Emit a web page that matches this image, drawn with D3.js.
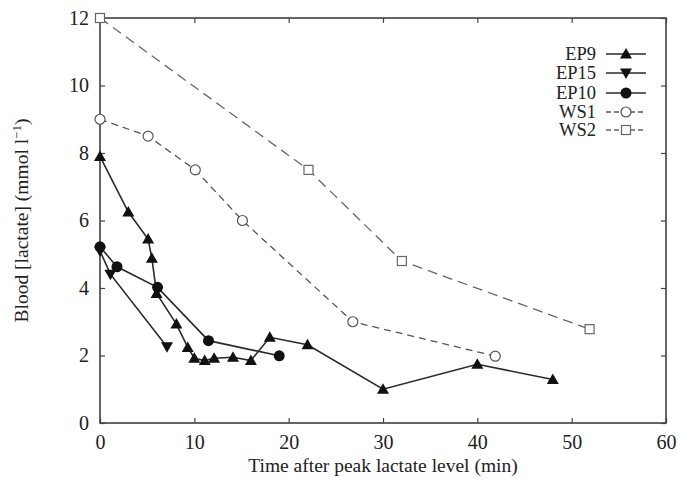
<!DOCTYPE html>
<html><head><meta charset="utf-8">
<script src="https://cdn.jsdelivr.net/npm/d3@7"></script>
<style>body{margin:0;background:#fff}svg{display:block}text{font-family:"Liberation Serif","Times New Roman",serif;fill:#222}</style>
</head><body><svg id="c" width="678" height="496"></svg>
<script>
const xTicks=[0,10,20,30,40,50,60];
const yTicks=[0,2,4,6,8,10,12];
const ep9X=[0,3,5.1,5.5,6.0,8.1,9.3,10.0,11.1,12.1,14.1,16.0,18.0,22.0,30.0,40.0,48.0];
const ep9Y=[7.9,6.25,5.45,4.88,3.84,2.93,2.24,1.92,1.85,1.92,1.95,1.85,2.54,2.32,1.0,1.74,1.29];
const ep15X=[0,1.1,7.1];
const ep15Y=[5.1,4.41,2.26];
const ep10X=[0,1.8,6.1,11.5,19.0];
const ep10Y=[5.22,4.63,4.02,2.44,1.99];
const ws1X=[0,5.1,10.1,15.1,26.8,41.9];
const ws1Y=[9.0,8.5,7.5,6.0,3.0,1.98];
const ws2X=[0,22.1,32.0,51.9];
const ws2Y=[12.0,7.5,4.8,2.78];
const seriesNames=["EP9","EP15","EP10","WS1","WS2"];

const svg=d3.select("#c");
const L=100,R=666,T=18,B=423;
const x=d3.scaleLinear().domain([0,60]).range([L,R]);
const y=d3.scaleLinear().domain([0,12]).range([B,T]);

const series=[
 {name:"EP9",xs:ep9X,ys:ep9Y,marker:"triUp",dash:null,color:"#2a2a2a",w:1.6},
 {name:"EP15",xs:ep15X,ys:ep15Y,marker:"triDown",dash:null,color:"#2a2a2a",w:1.6},
 {name:"EP10",xs:ep10X,ys:ep10Y,marker:"circle",dash:null,color:"#2a2a2a",w:1.6},
 {name:"WS1",xs:ws1X,ys:ws1Y,marker:"ocircle",dash:"7,5",color:"#555",w:1.3},
 {name:"WS2",xs:ws2X,ys:ws2Y,marker:"osquare",dash:"10,6",color:"#666",w:1.3}
];

// frame
svg.append("rect").attr("x",L).attr("y",T).attr("width",R-L).attr("height",B-T)
 .attr("fill","none").attr("stroke","#333").attr("stroke-width",1.5);

// axes with inward ticks
const gx=svg.append("g").attr("transform",`translate(0,${B})`)
 .call(d3.axisBottom(x).tickValues(xTicks).tickSize(-5).tickPadding(12).tickFormat(d3.format("d")));
const gxt=svg.append("g").attr("transform",`translate(0,${T})`)
 .call(d3.axisTop(x).tickValues(xTicks).tickSize(-5).tickFormat(""));
const gy=svg.append("g").attr("transform",`translate(${L},0)`)
 .call(d3.axisLeft(y).tickValues(yTicks).tickSize(-5).tickPadding(11).tickFormat(d3.format("d")));
const gyr=svg.append("g").attr("transform",`translate(${R},0)`)
 .call(d3.axisRight(y).tickValues(yTicks).tickSize(-5).tickFormat(""));
[gx,gxt,gy,gyr].forEach(g=>{g.select(".domain").remove();g.selectAll("line").attr("stroke","#444").attr("stroke-width",1.2);
 g.selectAll("text").attr("font-size",20).attr("fill","#222").attr("font-family","Liberation Serif, serif");});
gx.selectAll("text").attr("dy","0.71em");

// titles
svg.append("text").attr("x",(L+R)/2).attr("y",472).attr("text-anchor","middle").attr("font-size",19.5)
 .text("Time after peak lactate level (min)");
const yt=svg.append("text").attr("transform",`translate(28,${(T+B)/2}) rotate(-90)`).attr("text-anchor","middle").attr("font-size",19.5);
yt.append("tspan").text("Blood [lactate] (mmol l");
yt.append("tspan").attr("dy",-7).attr("font-size",13).text("−1");
yt.append("tspan").attr("dy",7).text(")");

const line=d3.line().x(d=>x(d[0])).y(d=>y(d[1]));
function drawMarker(g,type,cx,cy,color){
 if(type==="triUp") g.append("path").attr("d",`M${cx},${cy-6}L${cx+6},${cy+4.5}L${cx-6},${cy+4.5}Z`).attr("fill","#111");
 else if(type==="triDown") g.append("path").attr("d",`M${cx},${cy+6}L${cx+6},${cy-4.5}L${cx-6},${cy-4.5}Z`).attr("fill","#111");
 else if(type==="circle") g.append("circle").attr("cx",cx).attr("cy",cy).attr("r",5.5).attr("fill","#111");
 else if(type==="ocircle") g.append("circle").attr("cx",cx).attr("cy",cy).attr("r",5).attr("fill","#fff").attr("stroke",color).attr("stroke-width",1.2);
 else if(type==="osquare") g.append("rect").attr("x",cx-4.5).attr("y",cy-4.5).attr("width",9).attr("height",9).attr("fill","#fff").attr("stroke",color).attr("stroke-width",1.2);
}
const order=["WS2","WS1","EP15","EP9","EP10"];
order.forEach(n=>{
 const s=series.find(d=>d.name===n);
 const pts=s.xs.map((v,i)=>[v,s.ys[i]]);
 const g=svg.append("g");
 g.append("path").datum(pts).attr("d",line).attr("fill","none").attr("stroke",s.color).attr("stroke-width",s.w)
  .attr("stroke-dasharray",s.dash);
 pts.forEach(p=>drawMarker(g,s.marker,x(p[0]),y(p[1]),s.color));
});

// legend
const legY=[54,73,93,112,130];
seriesNames.forEach((n,i)=>{
 const s=series.find(d=>d.name===n);
 const g=svg.append("g");
 g.append("text").attr("x",596).attr("y",legY[i]).attr("dy","0.35em").attr("text-anchor","end").attr("font-size",18.5).text(n);
 g.append("line").attr("x1",606).attr("x2",646).attr("y1",legY[i]).attr("y2",legY[i]).attr("stroke",s.color).attr("stroke-width",s.w)
  .attr("stroke-dasharray",s.dash?"5,3":null);
 drawMarker(g,s.marker,626,legY[i],s.color);
});
</script></body></html>
